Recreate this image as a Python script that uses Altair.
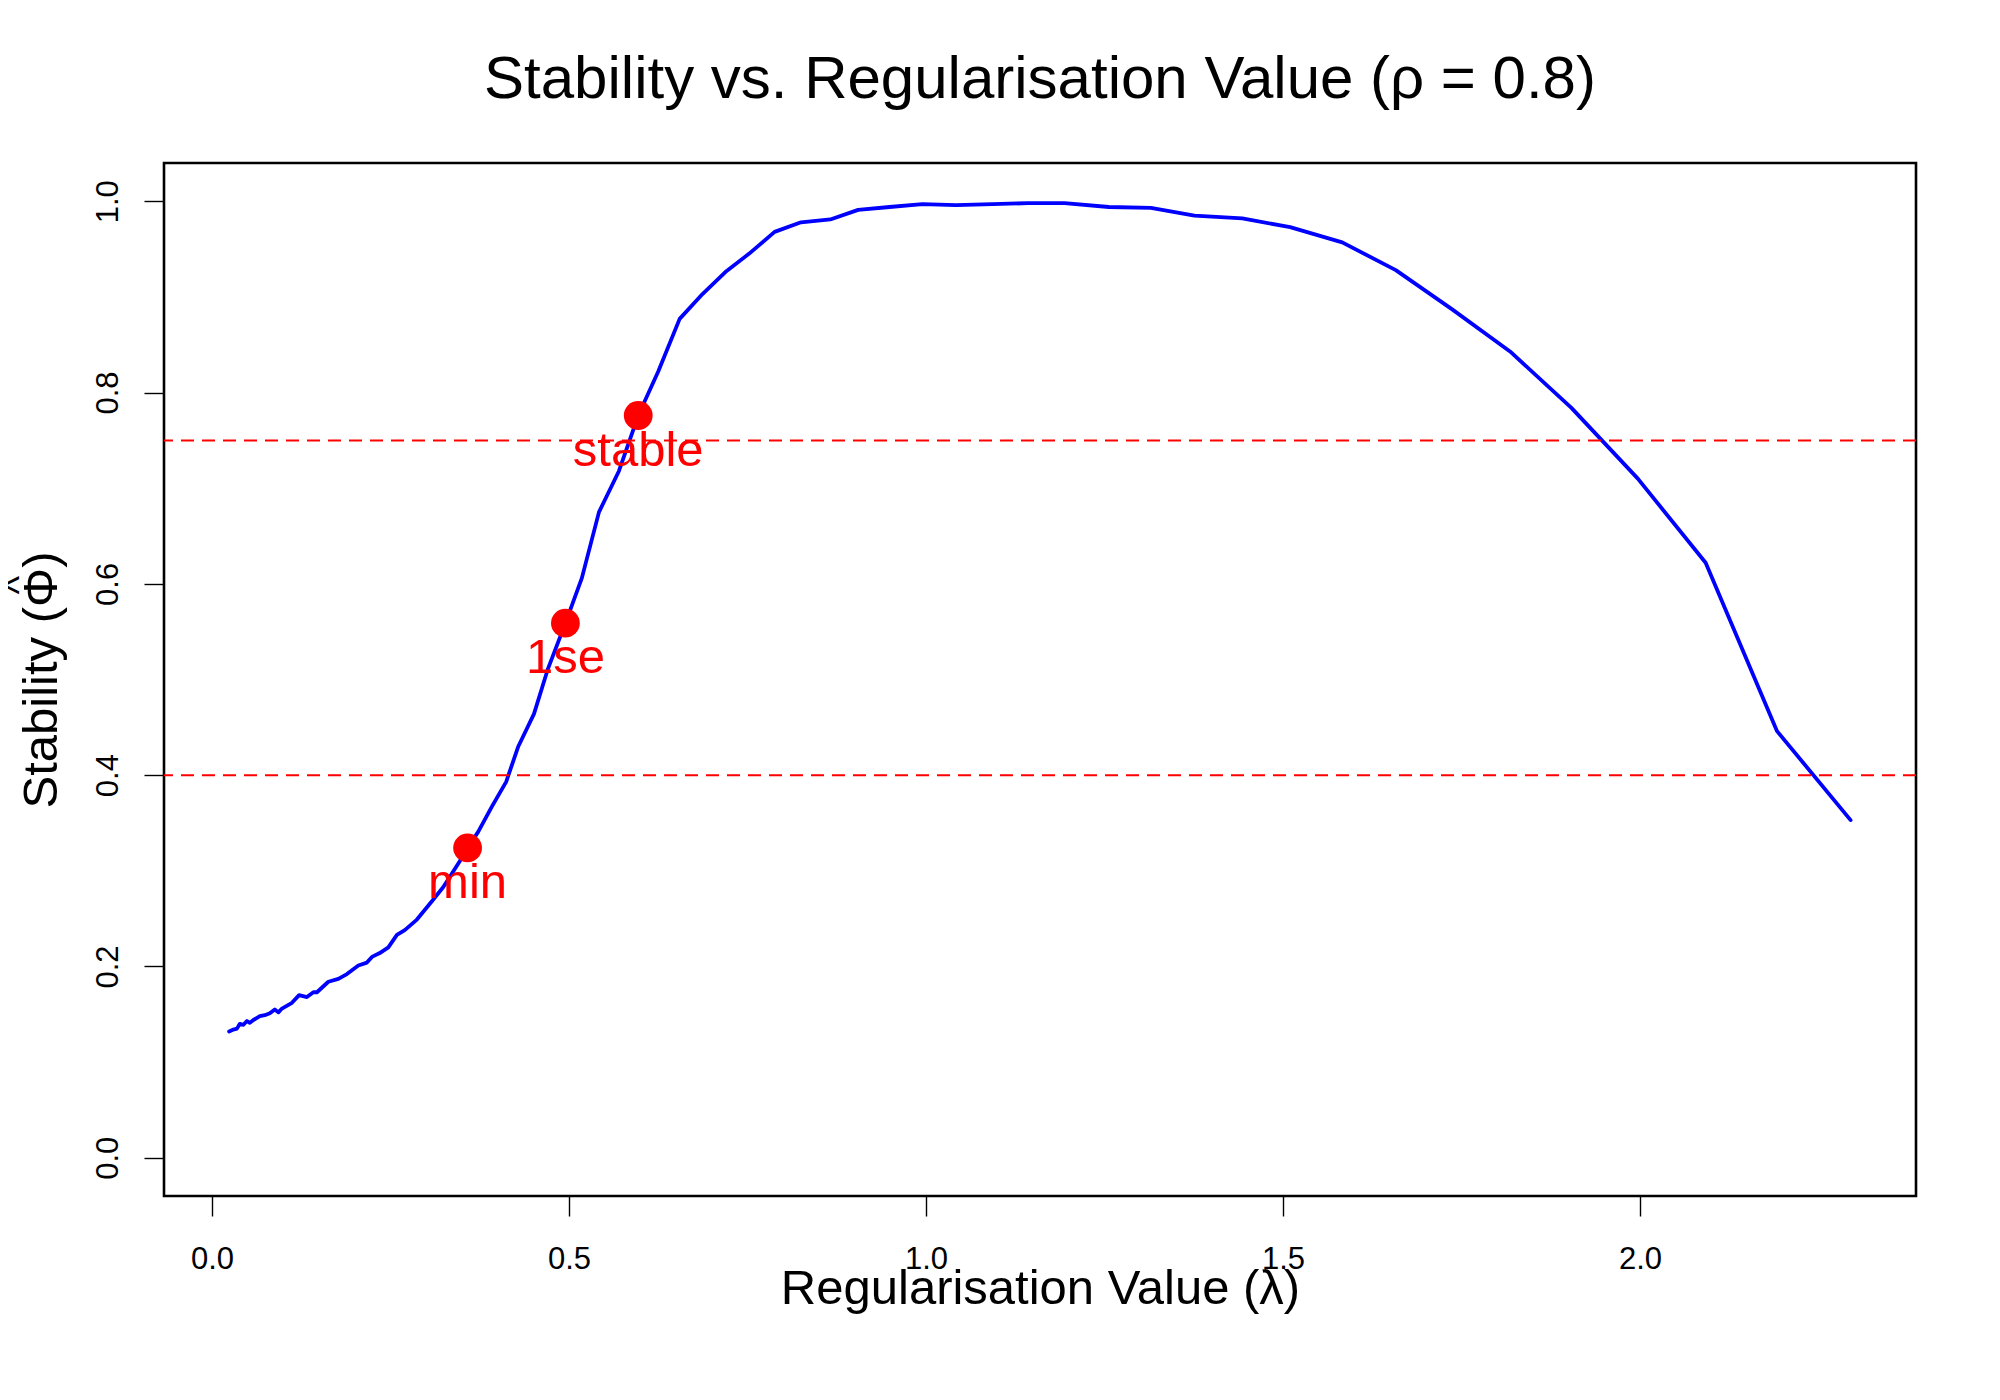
import altair as alt
import pandas as pd

# Curve: regularisation value (lambda) vs stability
lam = [0.024, 0.030, 0.035, 0.039, 0.044, 0.049, 0.053, 0.058, 0.067, 0.074,
       0.081, 0.088, 0.093, 0.098, 0.112, 0.122, 0.133, 0.142, 0.147, 0.163,
       0.177, 0.189, 0.205, 0.217, 0.224, 0.235, 0.247, 0.259, 0.270, 0.287,
       0.310, 0.324, 0.347, 0.358, 0.373, 0.392, 0.412, 0.429, 0.451, 0.470,
       0.495, 0.518, 0.542, 0.570, 0.597, 0.625, 0.655, 0.687, 0.719, 0.752,
       0.788, 0.825, 0.866, 0.905, 0.949, 0.995, 1.042, 1.093, 1.143, 1.194,
       1.256, 1.315, 1.376, 1.443, 1.510, 1.583, 1.658, 1.737, 1.818, 1.904,
       1.997, 2.092, 2.192, 2.295]
stab = [0.132, 0.134, 0.135, 0.140, 0.139, 0.143, 0.141, 0.144, 0.148, 0.149,
        0.151, 0.155, 0.152, 0.156, 0.162, 0.170, 0.168, 0.173, 0.173, 0.184,
        0.187, 0.192, 0.201, 0.204, 0.210, 0.214, 0.220, 0.233, 0.238, 0.249,
        0.270, 0.283, 0.310, 0.324, 0.341, 0.367, 0.393, 0.430, 0.464, 0.510,
        0.559, 0.606, 0.675, 0.718, 0.776, 0.822, 0.877, 0.903, 0.926, 0.945,
        0.968, 0.978, 0.981, 0.991, 0.994, 0.997, 0.996, 0.997, 0.998, 0.998,
        0.994, 0.993, 0.985, 0.982, 0.973, 0.957, 0.928, 0.887, 0.843, 0.784,
        0.710, 0.622, 0.446, 0.353]

# Selected points
sel_names = ["min", "1se", "stable"]
sel_lam = [0.358, 0.495, 0.597]
sel_stab = [0.324, 0.559, 0.776]

# Threshold lines
thresholds = [0.75, 0.4]

x_ticks = [0.0, 0.5, 1.0, 1.5, 2.0]
y_ticks = [0.0, 0.2, 0.4, 0.6, 0.8, 1.0]

curve = pd.DataFrame({"lam": lam, "stab": stab})
sel = pd.DataFrame({"name": sel_names, "lam": sel_lam, "stab": sel_stab})
thr = pd.DataFrame({"y": thresholds})

FONT = "Liberation Sans"
W, H = 1752, 1033

xscale = alt.Scale(domain=[-0.0672, 2.3866], nice=False, zero=False)
yscale = alt.Scale(domain=[-0.04, 1.04], nice=False, zero=False)

xaxis = alt.Axis(
    values=x_ticks, format=".1f", grid=False, domain=False,
    tickSize=20, tickWidth=1.4, tickColor="black",
    labelFont=FONT, labelFontSize=31, labelColor="black",
    labelBaseline="alphabetic", labelPadding=52, labelOverlap=False,
    title="Regularisation Value (λ)", titleFont=FONT, titleFontSize=49,
    titleFontWeight="normal", titleColor="black",
    titleBaseline="alphabetic", titleX=W / 2, titleY=107, titleAlign="center",
)
yaxis = alt.Axis(
    values=y_ticks, format=".1f", grid=False, domain=False,
    tickSize=20, tickWidth=1.4, tickColor="black",
    labelFont=FONT, labelFontSize=31, labelColor="black",
    labelAngle=270, labelAlign="center", labelBaseline="alphabetic",
    labelPadding=27, labelOverlap=False,
    title="Stability (Φ)", titleFont=FONT, titleFontSize=49,
    titleFontWeight="normal", titleColor="black",
    titleAngle=270, titleBaseline="alphabetic", titleAlign="center",
    titleX=-108, titleY=H / 2,
)

line = alt.Chart(curve).mark_line(
    color="#0000FF", strokeWidth=3.8, strokeJoin="round", strokeCap="round"
).encode(
    x=alt.X("lam:Q", scale=xscale, axis=xaxis),
    y=alt.Y("stab:Q", scale=yscale, axis=yaxis),
    order="lam:Q",
)

rules = alt.Chart(thr).mark_rule(
    color="#FF0000", strokeWidth=2, strokeDash=[13, 8]
).encode(y=alt.Y("y:Q", scale=yscale))

pts = alt.Chart(sel).mark_circle(
    color="#FF0000", size=830, opacity=1
).encode(
    x=alt.X("lam:Q", scale=xscale),
    y=alt.Y("stab:Q", scale=yscale),
)

labels = alt.Chart(sel).mark_text(
    color="#FF0000", font=FONT, fontSize=49, align="center",
    baseline="alphabetic", dy=50
).encode(
    x=alt.X("lam:Q", scale=xscale),
    y=alt.Y("stab:Q", scale=yscale),
    text="name:N",
)

# hat accent over the Phi of the y-axis title (rotated with the title)
hat = alt.Chart(pd.DataFrame({"t": ["^"]})).mark_text(
    font=FONT, fontSize=40, color="black", angle=270,
    align="center", baseline="alphabetic"
).encode(x=alt.value(-132), y=alt.value(422), text="t:N")

chart = alt.layer(line, rules, pts, labels, hat).properties(
    width=W, height=H,
    background="white",
    title=alt.TitleParams(
        "Stability vs. Regularisation Value (ρ = 0.8)",
        font=FONT, fontSize=60, fontWeight="normal", color="black",
        anchor="middle", frame="group", baseline="alphabetic", offset=5,
    ),
    autosize=alt.AutoSizeParams(type="none"),
    padding={"left": 156, "top": 155, "right": 76, "bottom": 196},
).configure_view(
    stroke="black", strokeWidth=2.6
)

chart.save("out.html", embed_options={"renderer": "svg", "actions": False})
